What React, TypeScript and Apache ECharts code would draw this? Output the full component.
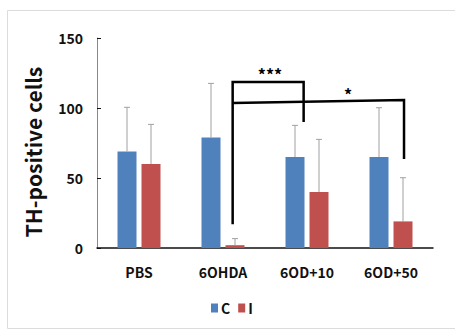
import React, { useEffect, useRef } from "react";
import * as echarts from "echarts";

const categories = ["PBS", "6OHDA", "6OD+10", "6OD+50"];
const seriesC = [69, 79, 65, 65];
const seriesI = [60, 2, 40, 19];
const sdC = [31.5, 38.6, 22.6, 35.2];
const sdI = [28.3, 4.7, 37.6, 31.2];
const legendNames = ["C", "I"];
const yMin = 0;
const yMax = 150;
const yInterval = 50;

// significance brackets: points as [category position, value]
const bracket1 = [
  [1.115, 17],
  [1.115, 118.5],
  [1.96, 118.5],
  [1.96, 90],
];
const bracket2 = [
  [1.115, 103.5],
  [3.155, 105.7],
  [3.155, 63.5],
];
const stars = [
  { text: "***", pos: [1.56, 124] },
  { text: "*", pos: [2.49, 110] },
];

const FONT = "'Noto Sans CJK KR', 'Noto Sans', sans-serif";
const BAR_W = 19;
const BAR_GAP = 5;
const OFFSET = (BAR_W + BAR_GAP) / 2;

export default function App() {
  const ref = useRef<HTMLDivElement>(null);
  useEffect(() => {
    const chart = echarts.init(ref.current!, null, { renderer: "svg" });

    const errData = (vals: number[], sds: number[]) =>
      vals.map((v, i) => [i, v, v + sds[i]]);

    const errRender = (offset: number) => (params: any, api: any) => {
      const base = api.coord([api.value(0), api.value(1)]);
      const top = api.coord([api.value(0), api.value(2)]);
      const x = base[0] + offset;
      const style = { stroke: "#a0a0a0", lineWidth: 1 };
      return {
        type: "group",
        children: [
          { type: "line", shape: { x1: x, y1: base[1], x2: x, y2: top[1] }, style },
          { type: "line", shape: { x1: x - 3, y1: top[1], x2: x + 3, y2: top[1] }, style },
        ],
      };
    };

    const toPx = (api: any, p: number[]) => {
      const c0 = api.coord([0, p[1]]);
      const step = api.size([1, 0])[0];
      return [c0[0] + p[0] * step, c0[1]];
    };

    chart.setOption({
      animation: false,
      textStyle: { fontFamily: FONT },
      grid: { left: 97, top: 38, right: 22, bottom: 86 },
      legend: {
        data: legendNames,
        left: 206,
        top: 296,
        itemWidth: 7,
        itemHeight: 9,
        itemGap: 8,
        icon: "rect",
        textStyle: { fontFamily: FONT, fontSize: 14, fontWeight: "bold", color: "#111", padding: [0, 0, 0, -2] },
      },
      xAxis: {
        type: "category",
        data: categories,
        axisLine: { lineStyle: { color: "#111", width: 1.5 } },
        axisTick: { show: false },
        axisLabel: { fontFamily: FONT, fontSize: 14, fontWeight: "bold", color: "#111", margin: 17 },
      },
      yAxis: {
        type: "value",
        min: yMin,
        max: yMax,
        interval: yInterval,
        splitLine: { show: false },
        axisLine: { show: true, lineStyle: { color: "#888", width: 1 } },
        axisTick: { show: true, inside: true, length: 4, lineStyle: { color: "#111" } },
        axisLabel: { fontFamily: FONT, fontSize: 14, fontWeight: "bold", color: "#111", margin: 14 },
      },
      graphic: [
        {
          type: "rect",
          shape: { x: 7.5, y: 10.5, width: 460, height: 318 },
          style: { fill: "none", stroke: "#dcdcdc", lineWidth: 1 },
          silent: true,
        },
        {
          type: "text",
          x: 33,
          y: 152,
          rotation: Math.PI / 2,
          style: {
            text: "TH-positive cells",
            font: `bold 21px ${FONT}`,
            fill: "#111",
            align: "center",
            verticalAlign: "middle",
          },
        },
      ],
      series: [
        {
          name: "C",
          type: "bar",
          data: seriesC,
          barWidth: BAR_W,
          barGap: `${(BAR_GAP / BAR_W) * 100}%`,
          itemStyle: { color: "#4F81BD" },
        },
        {
          name: "I",
          type: "bar",
          data: seriesI,
          barWidth: BAR_W,
          itemStyle: { color: "#C0504D" },
        },
        {
          type: "custom",
          data: errData(seriesC, sdC),
          renderItem: errRender(-OFFSET),
          encode: { x: 0, y: [1, 2] },
          z: 3,
        },
        {
          type: "custom",
          data: errData(seriesI, sdI),
          renderItem: errRender(OFFSET),
          encode: { x: 0, y: [1, 2] },
          z: 3,
        },
        {
          type: "custom",
          data: [[0, 0]],
          z: 4,
          renderItem: (params: any, api: any) => {
            const lineStyle = { stroke: "#000", lineWidth: 2.5, fill: "none" };
            return {
              type: "group",
              children: [
                { type: "polyline", shape: { points: bracket1.map((p) => toPx(api, p)) }, style: lineStyle },
                { type: "polyline", shape: { points: bracket2.map((p) => toPx(api, p)) }, style: lineStyle },
                ...stars.map((s) => {
                  const p = toPx(api, s.pos);
                  return {
                    type: "text",
                    x: p[0],
                    y: p[1],
                    style: {
                      text: s.text,
                      font: `bold 16px ${FONT}`,
                      fill: "#000",
                      align: "center",
                      verticalAlign: "middle",
                    },
                  };
                }),
              ],
            };
          },
        },
      ],
    });
    return () => chart.dispose();
  }, []);
  return (
    <div
      ref={ref}
      style={{ position: "fixed", left: 0, top: 0, width: 455, height: 334, background: "#fff" }}
    />
  );
}
